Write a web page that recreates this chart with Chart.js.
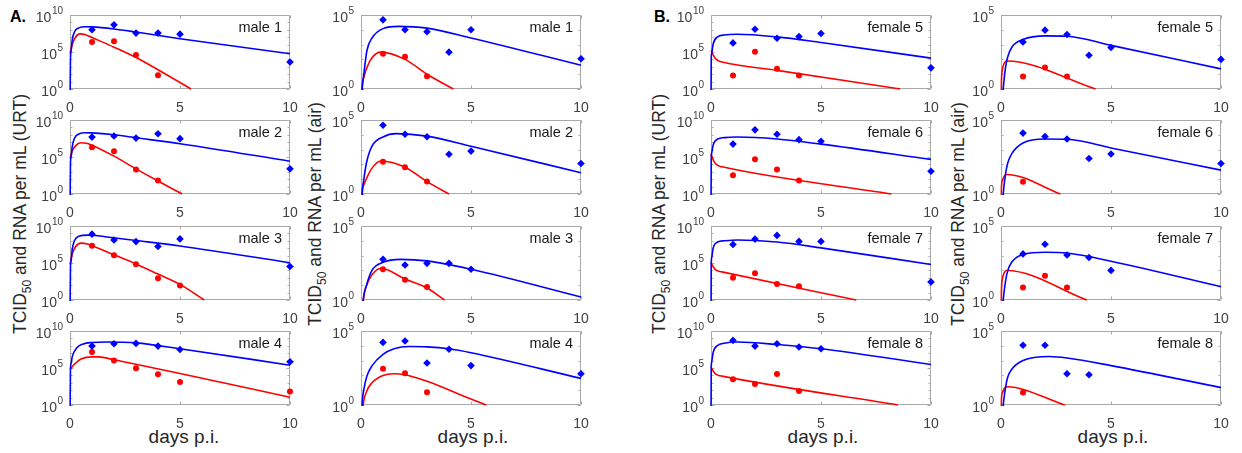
<!DOCTYPE html>
<html><head><meta charset="utf-8">
<script src="https://cdn.jsdelivr.net/npm/chart.js@4.4.0/dist/chart.umd.min.js"></script>
<style>
html,body{margin:0;padding:0;background:#fff;width:1242px;height:453px;overflow:hidden;position:relative;font-family:'Liberation Sans',Arial,sans-serif;}
canvas{position:absolute;}
.yt{position:absolute;transform:translate(-50%,-50%) rotate(-90deg);white-space:nowrap;font-size:17.5px;color:#262626;line-height:20px;}
.yt sub{font-size:12px;vertical-align:-5px;line-height:0;}
.xt{position:absolute;transform:translate(-50%,-50%);font-size:19px;color:#262626;white-space:nowrap;}
.pl{position:absolute;font-weight:bold;font-size:16px;line-height:16px;color:#000;}
</style></head><body>
<div class="pl" style="left:10px;top:9px">A.</div>
<div class="pl" style="left:654px;top:9px">B.</div>
<div class="yt" style="left:20px;top:214px">TCID<sub>50</sub> and RNA per mL (URT)</div>
<div class="yt" style="left:315px;top:214px">TCID<sub>50</sub> and RNA per mL (air)</div>
<div class="yt" style="left:659px;top:214px">TCID<sub>50</sub> and RNA per mL (URT)</div>
<div class="yt" style="left:958px;top:214px">TCID<sub>50</sub> and RNA per mL (air)</div>
<div class="xt" style="left:184px;top:437px">days p.i.</div>
<div class="xt" style="left:473px;top:437px">days p.i.</div>
<div class="xt" style="left:823px;top:437px">days p.i.</div>
<div class="xt" style="left:1113px;top:437px">days p.i.</div>
<script>
// ---------- data ----------
const days = [1, 2, 3, 4, 5, 10];
const xTicks = [0, 5, 10];
const urtTicks = [1, 1e5, 1e10];
const airTicks = [1, 1e5];

// male 1
const m1UrtRna = [1e8, 4.7e8, 3.6e7, 3.6e7, 2.6e7, 4.4e3];
const m1UrtTcid = [2.3e6, 2.8e6, 3.8e4, 74, null, null];
const m1UrtRnaFitT = [0, 0.02, 0.05, 0.1, 0.2, 0.4, 0.7, 1, 2, 3, 5, 10];
const m1UrtRnaFitV = [1e-3, 1e4, 1.3e5, 4e6, 5e7, 1.8e8, 2.6e8, 2.5e8, 1.3e8, 5e7, 6.3e6, 5.8e4];
const m1UrtTcidFitT = [0, 0.1, 0.25, 0.45, 0.7, 1, 2, 3, 4, 5.5];
const m1UrtTcidFitV = [6.3e4, 1e6, 1e7, 2.8e7, 2.2e7, 8.9e6, 4.5e5, 1.8e4, 400, 1];
// male 2
const m2UrtRna = [4.9e7, 6.8e7, 3.6e7, 1.4e8, 3e7, 2.5e3];
const m2UrtTcid = [2.1e6, 6.2e5, 2e3, 65, null, null];
const m2UrtRnaFitT = [0, 0.02, 0.05, 0.1, 0.2, 0.4, 0.7, 1, 2, 3, 5, 10];
const m2UrtRnaFitV = [1e-3, 1e4, 1e5, 2.5e6, 3.2e7, 1.3e8, 1.9e8, 1.8e8, 1e8, 4e7, 6.3e6, 2.7e4];
const m2UrtTcidFitT = [0, 0.1, 0.25, 0.5, 0.75, 1, 2, 3, 4, 5.1];
const m2UrtTcidFitV = [6.3e4, 6.3e5, 3.2e6, 8.3e6, 7.1e6, 4e6, 1.3e5, 2.5e3, 56, 1];
// male 3
const m3UrtRna = [7.9e8, 1.3e8, 7.8e7, 1.7e7, 1.8e8, 3.3e4];
const m3UrtTcid = [2.1e7, 1.1e6, 6.6e4, 870, 93, null];
const m3UrtRnaFitT = [0, 0.02, 0.05, 0.1, 0.2, 0.4, 0.8, 1, 2, 3, 5, 10];
const m3UrtRnaFitV = [1e-3, 1.6e4, 2e5, 6.3e6, 1e8, 4e8, 5.9e8, 5.6e8, 2.5e8, 1.1e8, 2e7, 1.1e5];
const m3UrtTcidFitT = [0, 0.1, 0.25, 0.5, 0.75, 1, 2, 3, 4, 5, 6.1];
const m3UrtTcidFitV = [6.3e4, 1.6e6, 1.6e7, 4.8e7, 4e7, 2.2e7, 1.3e6, 7.4e4, 3.2e3, 130, 1];
// male 4
const m4UrtRna = [9.1e7, 1.9e8, 2.1e8, 9.1e7, 3.2e7, 6.9e5];
const m4UrtTcid = [1.4e7, 1e6, 9.5e4, 1.4e4, 1.3e3, 65];
const m4UrtRnaFitT = [0, 0.02, 0.05, 0.1, 0.3, 0.6, 1, 1.7, 3, 5, 10];
const m4UrtRnaFitV = [1e-3, 6.3e4, 4e5, 3.2e6, 5e7, 1.8e8, 2.8e8, 3.3e8, 2.5e8, 4e7, 2.4e5];
const m4UrtTcidFitT = [0, 0.2, 0.5, 1, 1.3, 2, 5, 10];
const m4UrtTcidFitV = [6.3e4, 3.2e5, 1.6e6, 3.2e6, 3.2e6, 1.3e6, 1.8e4, 11];

// male air
const m1AirRna = [4.7e4, 1e4, 7.4e3, 310, 1e4, 110];
const m1AirTcid = [240, 150, 7.4, null, null, null];
const m1AirRnaFitT = [0, 0.05, 0.12, 0.27, 0.5, 1, 1.7, 3, 5, 10];
const m1AirRnaFitV = [0.01, 1, 7.9, 400, 2.8e3, 1.2e4, 1.7e4, 1.3e4, 2.8e3, 40];
const m1AirTcidFitT = [0, 0.05, 0.15, 0.3, 0.5, 0.9, 2, 3, 4.2];
const m1AirTcidFitV = [0.01, 1, 7.9, 36, 130, 310, 100, 10, 1];

const m2AirRna = [4.4e4, 1.1e4, 7.4e3, 490, 790, 115];
const m2AirTcid = [150, 65, 6.9, null, null, null];
const m2AirRnaFitT = [0, 0.05, 0.12, 0.25, 0.5, 1, 1.6, 3, 5, 10];
const m2AirRnaFitV = [0.01, 1, 7.9, 130, 1.7e3, 7.1e3, 1.2e4, 8.1e3, 1.7e3, 27];
const m2AirTcidFitT = [0, 0.05, 0.15, 0.3, 0.5, 0.9, 2, 3, 4];
const m2AirTcidFitV = [0.01, 1, 5, 16, 56, 170, 65, 6.9, 1];

const m3AirRna = [560, 230, 300, 300, 120, null];
const m3AirTcid = [120, 23, 7.6, null, null, null];
const m3AirRnaFitT = [0, 0.1, 0.25, 0.5, 1, 1.8, 3, 5, 10];
const m3AirRnaFitV = [0.01, 1, 10, 100, 350, 560, 440, 120, 1.6];
const m3AirTcidFitT = [0, 0.1, 0.3, 0.5, 0.9, 2, 3, 3.8];
const m3AirTcidFitV = [0.01, 1, 14, 50, 140, 26, 6.5, 1];

const m4AirRna = [1.7e4, 2.1e4, 690, 5.8e3, 460, 130];
const m4AirTcid = [280, 140, 7.2, null, null, null];
const m4AirRnaFitT = [0, 0.05, 0.15, 0.27, 0.5, 1, 1.5, 2.2, 3, 4, 5, 10];
const m4AirRnaFitV = [0.01, 1, 16, 91, 440, 2.6e3, 6.3e3, 8.9e3, 8.5e3, 6.3e3, 3.4e3, 63];
const m4AirTcidFitT = [0, 0.1, 0.25, 0.5, 1, 1.5, 2, 3, 5, 5.7];
const m4AirTcidFitV = [0.01, 1, 7.9, 32, 100, 130, 110, 40, 2.5, 1];

// female URT
const f5UrtRna = [1.7e6, 1.2e8, 7.2e6, 1.2e7, 3.2e7, 720];
const f5UrtTcid = [66, 1.1e5, 540, 66, null, null];
const f5UrtRnaFitT = [0, 0.01, 0.03, 0.1, 0.3, 0.6, 1.2, 3, 5, 10];
const f5UrtRnaFitV = [1e-3, 1e4, 6.3e4, 1.3e6, 1.1e7, 2e7, 2.5e7, 1.1e7, 1.9e6, 1.5e4];
const f5UrtTcidFitT = [0, 0.1, 0.2, 0.35, 0.5, 3, 8.6];
const f5UrtTcidFitV = [1.6e5, 4e4, 1.3e4, 6.3e3, 4.4e3, 330, 1];

const f6UrtRna = [5.5e6, 4.7e8, 1.2e8, 2.2e7, 1.3e7, 1.2e3];
const f6UrtTcid = [330, 4.8e4, 2e3, 68, null, null];
const f6UrtRnaFitT = [0, 0.01, 0.03, 0.1, 0.3, 0.6, 1.2, 3, 5, 10];
const f6UrtRnaFitV = [1e-3, 3.2e4, 3.2e5, 4.5e6, 2.7e7, 4.2e7, 5e7, 2.7e7, 5.5e6, 4.8e4];
const f6UrtTcidFitT = [0, 0.1, 0.2, 0.35, 0.5, 8.2];
const f6UrtTcidFitV = [2.5e5, 4e4, 1.3e4, 6.3e3, 4.7e3, 1];

const f7UrtRna = [3.2e7, 1.7e8, 5.4e8, 8.3e7, 8.3e7, 280];
const f7UrtTcid = [980, 4.2e3, 150, 72, null, null];
const f7UrtRnaFitT = [0, 0.01, 0.03, 0.1, 0.3, 0.6, 1.2, 3, 5, 10];
const f7UrtRnaFitV = [1e-3, 6.3e4, 5e5, 1.1e7, 6.8e7, 1e8, 1.3e8, 6.8e7, 1.1e7, 6.3e4];
const f7UrtTcidFitT = [0, 0.1, 0.2, 0.35, 0.5, 6.6];
const f7UrtTcidFitV = [1e5, 3.2e4, 1.3e4, 7.9e3, 6.3e3, 1];

const f8UrtRna = [5.4e8, 9.1e7, 1.9e8, 6.8e7, 4e7, null];
const f8UrtTcid = [3e3, 710, 1.6e4, 79, null, null];
const f8UrtRnaFitT = [0, 0.01, 0.03, 0.1, 0.3, 0.6, 1.2, 3, 5, 10];
const f8UrtRnaFitV = [1e-3, 1e5, 6.3e5, 1.4e7, 1.1e8, 2.2e8, 3.2e8, 1.5e8, 4e7, 3e5];
const f8UrtTcidFitT = [0, 0.1, 0.2, 0.35, 0.5, 8.5];
const f8UrtTcidFitV = [1.3e5, 4e4, 1.6e4, 1e4, 7.9e3, 1];

// female air
const f5AirRna = [1.5e3, 9.5e3, 4.8e3, 190, 630, 100];
const f5AirTcid = [6.9, 28, 6.9, null, null, null];
const f5AirRnaFitT = [0, 0.1, 0.2, 0.3, 0.5, 1, 2, 3, 5, 10];
const f5AirRnaFitV = [0.01, 1, 25, 140, 690, 2.2e3, 3.9e3, 3.7e3, 890, 23];
const f5AirTcidFitT = [0, 0.02, 0.06, 0.15, 0.25, 4.3];
const f5AirTcidFitV = [0.01, 3.2, 20, 56, 78, 1];

const f6AirRna = [1.3e4, 7.6e3, 5.2e3, 250, 510, 115];
const f6AirTcid = [6.8, null, null, null, null, null];
const f6AirRnaFitT = [0, 0.1, 0.2, 0.3, 0.5, 1, 2, 3, 5, 10];
const f6AirRnaFitV = [0.01, 1, 20, 115, 560, 2.8e3, 5.2e3, 5e3, 1.3e3, 41];
const f6AirTcidFitT = [0, 0.02, 0.06, 0.15, 0.25, 2.7];
const f6AirTcidFitV = [0.01, 2.5, 7.9, 16, 21, 1];

const f7AirRna = [1.3e3, 5.8e3, 1.1e3, 740, 100, null];
const f7AirTcid = [6.9, 43, 6.9, null, null, null];
const f7AirRnaFitT = [0, 0.1, 0.2, 0.3, 0.5, 1, 2, 3, 5, 10];
const f7AirRnaFitV = [0.01, 1, 16, 89, 380, 1.2e3, 1.7e3, 1.5e3, 420, 7.9];
const f7AirTcidFitT = [0, 0.02, 0.06, 0.15, 0.25, 3.9];
const f7AirTcidFitV = [0.01, 4, 25, 71, 98, 1];

const f8AirRna = [1.1e4, 1.1e4, 130, 110, null, null];
const f8AirTcid = [6.9, null, null, null, null, null];
const f8AirRnaFitT = [0, 0.1, 0.2, 0.3, 0.5, 1, 2.2, 3, 5, 10];
const f8AirRnaFitV = [0.01, 1, 13, 72, 270, 1e3, 1.9e3, 1.5e3, 460, 15];
const f8AirTcidFitT = [0, 0.02, 0.06, 0.15, 0.25, 2.9];
const f8AirTcidFitV = [0.01, 2.5, 6.3, 13, 17, 1];

// ---------- layout ----------
const colLeft = [70, 361, 711, 1001];
const rowTop = [15, 120, 226, 331];
const PW = 220, PH = 74;
const PADL = 55, PADT = 12, PADR = 15, XAXH = 28;

const panels = [
  [0,0,'male 1',true, m1UrtRna,m1UrtTcid,m1UrtRnaFitT,m1UrtRnaFitV,m1UrtTcidFitT,m1UrtTcidFitV],
  [0,1,'male 2',true, m2UrtRna,m2UrtTcid,m2UrtRnaFitT,m2UrtRnaFitV,m2UrtTcidFitT,m2UrtTcidFitV],
  [0,2,'male 3',true, m3UrtRna,m3UrtTcid,m3UrtRnaFitT,m3UrtRnaFitV,m3UrtTcidFitT,m3UrtTcidFitV],
  [0,3,'male 4',true, m4UrtRna,m4UrtTcid,m4UrtRnaFitT,m4UrtRnaFitV,m4UrtTcidFitT,m4UrtTcidFitV],
  [1,0,'male 1',false, m1AirRna,m1AirTcid,m1AirRnaFitT,m1AirRnaFitV,m1AirTcidFitT,m1AirTcidFitV],
  [1,1,'male 2',false, m2AirRna,m2AirTcid,m2AirRnaFitT,m2AirRnaFitV,m2AirTcidFitT,m2AirTcidFitV],
  [1,2,'male 3',false, m3AirRna,m3AirTcid,m3AirRnaFitT,m3AirRnaFitV,m3AirTcidFitT,m3AirTcidFitV],
  [1,3,'male 4',false, m4AirRna,m4AirTcid,m4AirRnaFitT,m4AirRnaFitV,m4AirTcidFitT,m4AirTcidFitV],
  [2,0,'female 5',true, f5UrtRna,f5UrtTcid,f5UrtRnaFitT,f5UrtRnaFitV,f5UrtTcidFitT,f5UrtTcidFitV],
  [2,1,'female 6',true, f6UrtRna,f6UrtTcid,f6UrtRnaFitT,f6UrtRnaFitV,f6UrtTcidFitT,f6UrtTcidFitV],
  [2,2,'female 7',true, f7UrtRna,f7UrtTcid,f7UrtRnaFitT,f7UrtRnaFitV,f7UrtTcidFitT,f7UrtTcidFitV],
  [2,3,'female 8',true, f8UrtRna,f8UrtTcid,f8UrtRnaFitT,f8UrtRnaFitV,f8UrtTcidFitT,f8UrtTcidFitV],
  [3,0,'female 5',false, f5AirRna,f5AirTcid,f5AirRnaFitT,f5AirRnaFitV,f5AirTcidFitT,f5AirTcidFitV],
  [3,1,'female 6',false, f6AirRna,f6AirTcid,f6AirRnaFitT,f6AirRnaFitV,f6AirTcidFitT,f6AirTcidFitV],
  [3,2,'female 7',false, f7AirRna,f7AirTcid,f7AirRnaFitT,f7AirRnaFitV,f7AirTcidFitT,f7AirTcidFitV],
  [3,3,'female 8',false, f8AirRna,f8AirTcid,f8AirRnaFitT,f8AirRnaFitV,f8AirTcidFitT,f8AirTcidFitV]
];

const FONT = "'Liberation Sans', Arial, sans-serif";
Chart.defaults.font.family = FONT;

const boxPlugin = {
  id: 'panelBox',
  beforeDatasetsDraw(chart, args, opts) {
    const {ctx, chartArea: a, scales} = chart;
    const L = Math.round(a.left) + 0.5, T = Math.round(a.top) + 0.5;
    const R = Math.round(a.right) - 0.5, B = Math.round(a.bottom) - 0.5;
    ctx.save();
    ctx.strokeStyle = '#a9a9a9';
    ctx.lineWidth = 1;
    ctx.beginPath();
    ctx.rect(L, T, R - L, B - T);
    xTicks.forEach(v => {
      const px = Math.round(scales.x.getPixelForValue(v)) + 0.5;
      ctx.moveTo(px, B); ctx.lineTo(px, B - 3);
      ctx.moveTo(px, T); ctx.lineTo(px, T + 3);
    });
    const top = scales.y.max;
    for (let v = 1; v <= top * 1.0001; v *= 10) {
      const py = Math.round(scales.y.getPixelForValue(v)) + 0.5;
      const major = opts.ticks.includes(v);
      const len = major ? 3 : 2;
      ctx.moveTo(L, py); ctx.lineTo(L + len, py);
      ctx.moveTo(R, py); ctx.lineTo(R - len, py);
    }
    ctx.stroke();
    ctx.restore();
  },
  afterDraw(chart, args, opts) {
    const {ctx, chartArea: a, scales} = chart;
    ctx.save();
    opts.ticks.forEach(v => {
      const py = scales.y.getPixelForValue(v);
      const exp = String(Math.round(Math.log10(v)));
      ctx.fillStyle = '#404040';
      ctx.font = '10px ' + FONT;
      const w2 = ctx.measureText(exp).width;
      ctx.font = '14px ' + FONT;
      const w1 = ctx.measureText('10').width;
      const right = a.left - 7;
      ctx.textBaseline = 'middle';
      ctx.textAlign = 'left';
      ctx.fillText('10', right - w2 - w1 - 0.5, py + 3);
      ctx.font = '10px ' + FONT;
      ctx.fillText(exp, right - w2, py - 3.5);
    });
    ctx.fillStyle = '#1a1a1a';
    ctx.font = '14.5px ' + FONT;
    ctx.textAlign = 'right';
    ctx.textBaseline = 'middle';
    ctx.fillText(opts.label, a.right - 8, a.top + 13);
    ctx.restore();
  }
};

function pts(vals) {
  const out = [];
  days.forEach((d, i) => { if (vals[i] != null) out.push({x: d, y: vals[i]}); });
  return out;
}
function curve(t, v) { return t.map((x, i) => ({x: x, y: v[i]})); }

panels.forEach(p => {
  const [col, row, label, urt, rna, tcid, rT, rV, tT, tV] = p;
  const cv = document.createElement('canvas');
  const w = PW + PADL + PADR, h = PH + PADT + XAXH;
  cv.width = w; cv.height = h;
  cv.style.width = w + 'px'; cv.style.height = h + 'px';
  cv.style.left = (colLeft[col] - PADL) + 'px';
  cv.style.top = (rowTop[row] - PADT) + 'px';
  document.body.appendChild(cv);
  const ticks = urt ? urtTicks : airTicks;
  new Chart(cv.getContext('2d'), {
    type: 'scatter',
    data: {
      datasets: [
        {data: pts(rna), showLine: false, pointStyle: 'rectRot', pointRadius: 3.8,
         backgroundColor: '#0000ff', borderColor: '#0000ff', borderWidth: 0, clip: false, order: 0},
        {data: pts(tcid), showLine: false, pointStyle: 'circle', pointRadius: 3,
         backgroundColor: '#ff0000', borderColor: '#ff0000', borderWidth: 0, clip: false, order: 0},
        {data: curve(rT, rV), showLine: true, pointRadius: 0, borderColor: '#0000ff',
         borderWidth: 1.6, fill: false, cubicInterpolationMode: 'monotone', clip: 1, order: 1},
        {data: curve(tT, tV), showLine: true, pointRadius: 0, borderColor: '#ff0000',
         borderWidth: 1.6, fill: false, cubicInterpolationMode: 'monotone', clip: 1, order: 2}
      ]
    },
    options: {
      responsive: false, animation: false, devicePixelRatio: 1, events: [],
      layout: {padding: {left: PADL, top: PADT, right: PADR, bottom: 0}},
      plugins: {legend: {display: false}, tooltip: {enabled: false},
                panelBox: {label: label, ticks: ticks}},
      scales: {
        x: {type: 'linear', min: 0, max: 10,
            afterBuildTicks: s => { s.ticks = xTicks.map(v => ({value: v})); },
            afterFit: s => { s.height = XAXH; },
            ticks: {color: '#404040', font: {size: 14}, padding: 3, maxRotation: 0, autoSkip: false},
            grid: {display: false}, border: {display: false}},
        y: {type: 'logarithmic', min: 1, max: urt ? 1e10 : 1e5, display: false}
      }
    },
    plugins: [boxPlugin]
  });
});
</script>
</body></html>
